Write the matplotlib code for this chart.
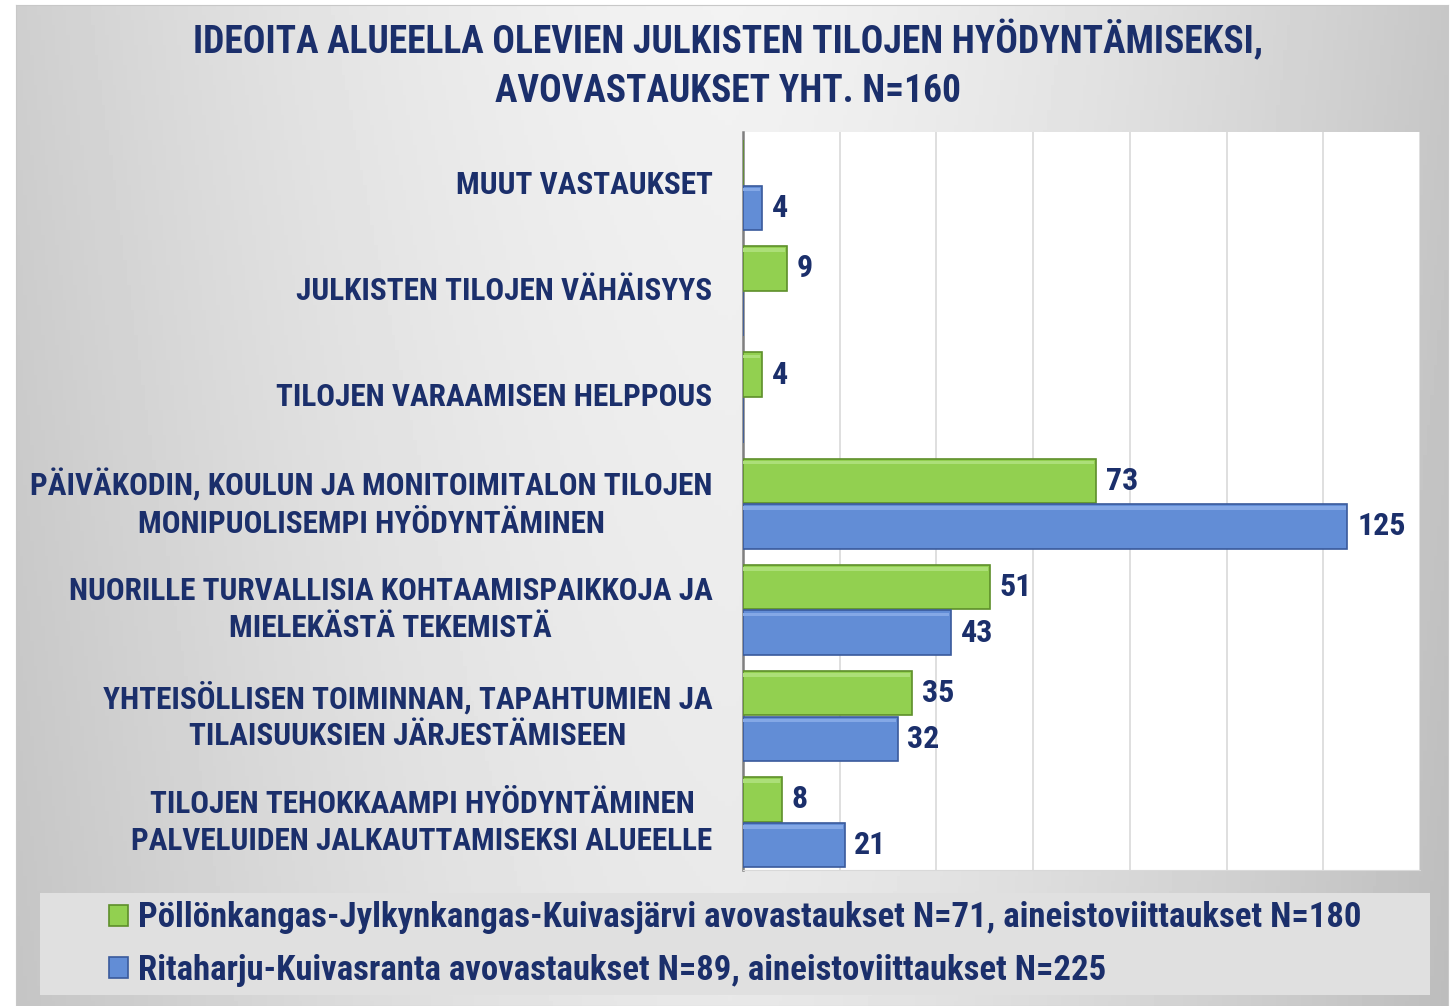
# Recreates the "Ideoita alueella olevien julkisten tilojen hyödyntämiseksi"
# grouped horizontal bar chart (two areas, open answers counted per theme).

import numpy as np
import matplotlib.pyplot as plt
from matplotlib import font_manager

# --- data (top to bottom as in the original) ---
categories = [
    "MUUT VASTAUKSET",
    "JULKISTEN TILOJEN VÄHÄISYYS",
    "TILOJEN VARAAMISEN HELPPOUS",
    "PÄIVÄKODIN, KOULUN JA MONITOIMITALON TILOJEN\nMONIPUOLISEMPI HYÖDYNTÄMINEN",
    "NUORILLE TURVALLISIA KOHTAAMISPAIKKOJA JA\nMIELEKÄSTÄ TEKEMISTÄ",
    "YHTEISÖLLISEN TOIMINNAN, TAPAHTUMIEN JA\nTILAISUUKSIEN JÄRJESTÄMISEEN",
    "TILOJEN TEHOKKAAMPI HYÖDYNTÄMINEN\nPALVELUIDEN JALKAUTTAMISEKSI ALUEELLE",
]
pollonkangas = [np.nan, 9, 4, 73, 51, 35, 8]
ritaharju = [4, np.nan, np.nan, 125, 43, 32, 21]

series_labels = [
    "Pöllönkangas-Jylkynkangas-Kuivasjärvi avovastaukset N=71, aineistoviittaukset N=180",
    "Ritaharju-Kuivasranta avovastaukset N=89, aineistoviittaukset N=225",
]
title = "IDEOITA ALUEELLA OLEVIEN JULKISTEN TILOJEN HYÖDYNTÄMISEKSI,\nAVOVASTAUKSET YHT. N=160"

NAVY = "#1b2f6b"
GREEN = "#92d050"
GREEN_EDGE = "#5e8f2a"
BLUE = "#628dd6"
BLUE_EDGE = "#3a5a9c"

# pick a narrow-ish font if one is installed (original uses Calibri bold)
installed = {f.name for f in font_manager.fontManager.ttflist}
family = next((f for f in ["Liberation Sans Narrow", "Roboto Condensed", "Lato"]
               if f in installed), "DejaVu Sans")
plt.rcParams["font.family"] = [family, "DejaVu Sans"]
plt.rcParams["font.weight"] = "bold"

fig = plt.figure(figsize=(14.56, 10.06), dpi=100)
fig.patch.set_facecolor("white")

# grey gradient background panel (lighter in the middle)
bg = fig.add_axes([16 / 1456, 0, 1 - 16 / 1456 - 8 / 1456, 1 - 5 / 1006], zorder=-5)
xs = np.linspace(-1, 1, 400)
ys = np.linspace(0, 1, 200)
X, Y = np.meshgrid(xs, ys)
shade = 0.95 - 0.14 * np.abs(X) ** 1.6 - 0.04 * Y - 0.03 * (X > 0) * X
bg.imshow(shade, cmap="gray", vmin=0, vmax=1, aspect="auto",
          extent=[0, 1, 0, 1], origin="upper")
bg.set_xticks([])
bg.set_yticks([])
for s in bg.spines.values():
    s.set_color("#c8c8c8")

# main plot area
ax = fig.add_axes([743 / 1456, 1 - 870 / 1006, (1420 - 743) / 1456, (870 - 132) / 1006])
ax.set_facecolor("white")

n = len(categories)
ypos = np.arange(n)[::-1]          # first category at the top
off = 0.215
h = 0.42

g = np.array(pollonkangas, dtype=float)
b = np.array(ritaharju, dtype=float)

ax.barh(ypos + off, np.nan_to_num(g), height=h, color=GREEN,
        edgecolor=GREEN_EDGE, linewidth=1.2, zorder=3, label=series_labels[0])
ax.barh(ypos - off, np.nan_to_num(b), height=h, color=BLUE,
        edgecolor=BLUE_EDGE, linewidth=1.2, zorder=3, label=series_labels[1])
# light bevel strip along the top of each bar
ax.barh(ypos + off + h * 0.41, np.nan_to_num(g) - 0.4, height=h * 0.08,
        color="#acdf78", linewidth=0, zorder=4)
ax.barh(ypos - off + h * 0.41, np.nan_to_num(b) - 0.4, height=h * 0.08,
        color="#84a8e6", linewidth=0, zorder=4)

for y, v in zip(ypos + off, g):
    if not np.isnan(v):
        ax.text(v + 2, y, f"{int(v)}", va="center", ha="left",
                fontsize=23, color=NAVY, fontweight="bold")
for y, v in zip(ypos - off, b):
    if not np.isnan(v):
        ax.text(v + 2, y, f"{int(v)}", va="center", ha="left",
                fontsize=23, color=NAVY, fontweight="bold")

ax.set_xlim(0, 140)
ax.set_ylim(-0.45, n - 0.5)
ax.set_xticks(np.arange(0, 141, 20))
ax.set_xticklabels([])
ax.tick_params(axis="x", length=0)
ax.grid(axis="x", color="#d9d9d9", linewidth=1.2, zorder=0)
ax.set_axisbelow(True)

ax.set_yticks(ypos)
ax.set_yticklabels(categories, fontsize=22.5, color=NAVY, fontweight="bold",
                   linespacing=1.3)
for lbl in ax.get_yticklabels():
    lbl.set_multialignment("center")
    lbl.set_verticalalignment("center")
ax.tick_params(axis="y", length=0, pad=22)

for side in ["top", "right"]:
    ax.spines[side].set_visible(False)
ax.spines["bottom"].set_color("#d9d9d9")
ax.spines["left"].set_color("#7f7f7f")
ax.spines["left"].set_linewidth(1.8)

fig.text(0.5, 1 - 65 / 1006, title, ha="center", va="center",
         fontsize=27, color=NAVY, fontweight="bold", linespacing=1.4)

# legend panel
leg_ax = fig.add_axes([40 / 1456, 1 - 995 / 1006, (1430 - 40) / 1456, (995 - 893) / 1006])
leg_ax.set_facecolor("#e0e0e0")
leg_ax.set_xticks([])
leg_ax.set_yticks([])
for s in leg_ax.spines.values():
    s.set_visible(False)
handles, labels = ax.get_legend_handles_labels()
leg_ax.legend(handles, labels, loc="center left", bbox_to_anchor=(0.027, 0.5),
              frameon=False, prop={"size": 25, "weight": "bold"},
              labelcolor=NAVY, handlelength=0.55, handleheight=0.55,
              handletextpad=0.3, labelspacing=0.55)

fig.savefig("out.png", dpi=100)
